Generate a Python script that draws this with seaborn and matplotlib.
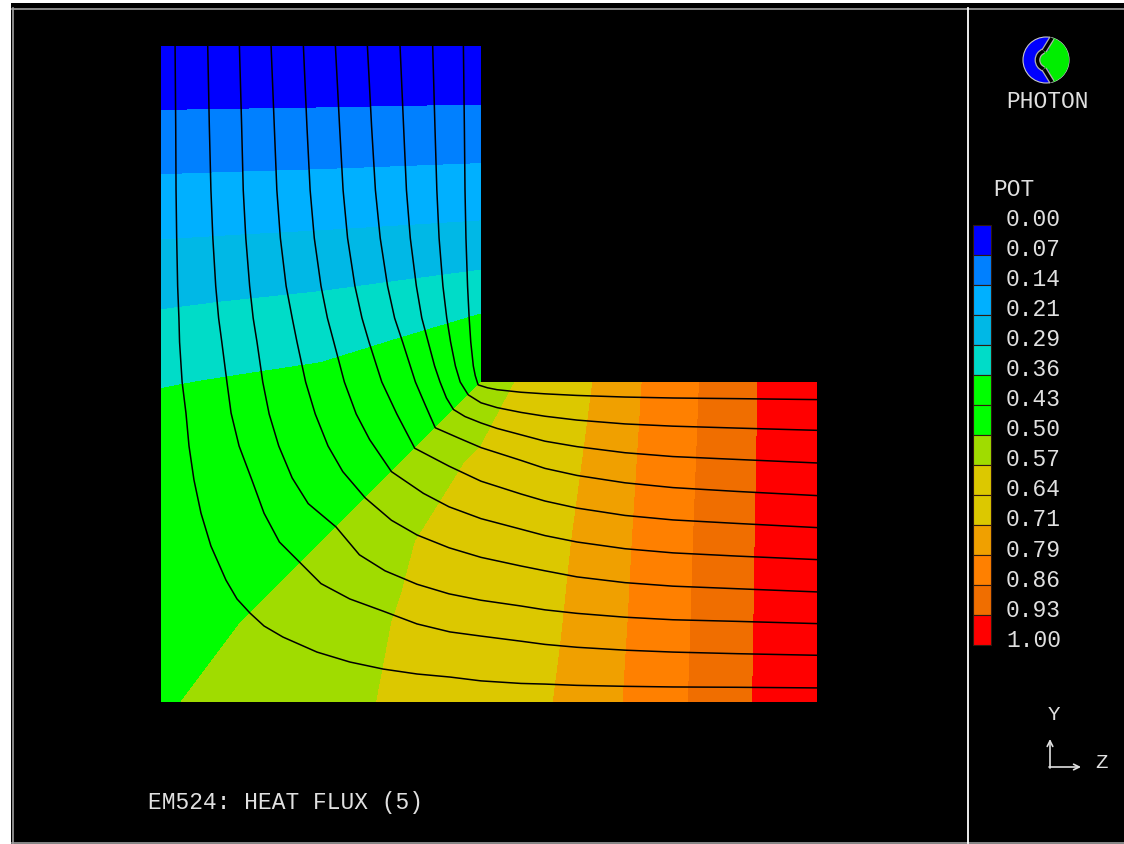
import numpy as np
import pandas as pd
import matplotlib
matplotlib.use('Agg')
import matplotlib.pyplot as plt
import seaborn as sns
from matplotlib.patches import Rectangle, Wedge, Circle, Arc
import matplotlib.patheffects as pe

# 1. DATA
# L-shaped plate, leg width = 1, outer length = 2.05 ; origin at outer corner
z_nodes = [0.0, 0.25, 0.5, 0.75, 1.0, 1.25, 1.5, 1.75, 2.05]
y_nodes = [0.0, 0.25, 0.5, 0.75, 1.0, 1.25, 1.5, 1.75, 2.05]
nan = np.nan
# nodal potential, one row per y node (bottom -> top), nan = outside the plate
pot_y000 = [0.497, 0.509, 0.538, 0.586, 0.648, 0.7214, 0.8043, 0.8936, 1.0]
pot_y025 = [0.490, 0.500, 0.528, 0.577, 0.636, 0.712, 0.800, 0.8914, 1.0]
pot_y050 = [0.462, 0.472, 0.500, 0.560, 0.624, 0.702, 0.796, 0.8893, 1.0]
pot_y075 = [0.414, 0.4226, 0.440, 0.500, 0.589, 0.6865, 0.7907, 0.8866, 1.0]
pot_y100 = [0.352, 0.364, 0.376, 0.411, 0.500, 0.668, 0.7843, 0.884, 1.0]
pot_y125 = [0.2786, 0.288, 0.298, 0.3135, 0.332, nan, nan, nan, nan]
pot_y150 = [0.1957, 0.200, 0.204, 0.2093, 0.2157, nan, nan, nan, nan]
pot_y175 = [0.1064, 0.1086, 0.1107, 0.1134, 0.116, nan, nan, nan, nan]
pot_y205 = [0.0, 0.0, 0.0, 0.0, 0.0, nan, nan, nan, nan]

pot_levels = [0.0, 0.0714, 0.1429, 0.2143, 0.2857, 0.3571, 0.4286, 0.5,
              0.5714, 0.6429, 0.7143, 0.7857, 0.8571, 0.9286, 1.0]
level_labels = ['0.00', '0.07', '0.14', '0.21', '0.29', '0.36', '0.43', '0.50',
                '0.57', '0.64', '0.71', '0.79', '0.86', '0.93', '1.00']
band_colors = ['#0000ff', '#0080ff', '#00b0ff', '#00b8e6', '#00dcc8', '#00ff00', '#00ff00',
               '#a0dc00', '#dcc800', '#dcc800', '#f0a000', '#ff8000', '#f06e00', '#ff0000']

# heat flux lines (z, y), from the top edge round the bend to the right edge
flux_z = [
    [.044, .046, .047, .049, .052, .056, .058, .066, .078, .0875, .103, .125, .156, .203, .2375, .278,
     .322, .381, .4875, .59, .694, .8, .903, 1.0, 1.125, 1.2, 1.3, 1.45, 1.6, 1.8, 2.05],
    [.146, .151, .156, .162, .171, .18, .19, .206, .219, .244, .284, .322, .37, .435,
     .5, .59, .694, .8, .903, 1.0, 1.125, 1.2, 1.3, 1.45, 1.6, 1.8, 2.05],
    [.245, .252, .257, .265, .277, .288, .30, .318, .338, .368, .41, .46, .547,
     .62, .7, .8, .9, 1.0, 1.125, 1.2, 1.3, 1.45, 1.6, 1.8, 2.05],
    [.344, .354, .362, .373, .391, .41, .425, .452, .482, .522, .568, .638,
     .72, .8, .9, 1.0, 1.125, 1.2, 1.3, 1.45, 1.6, 1.8, 2.05],
    [.445, .456, .466, .479, .5, .52, .54, .573, .61, .652, .72,
     .82, .9, 1.0, 1.125, 1.2, 1.3, 1.45, 1.6, 1.8, 2.05],
    [.545, .558, .569, .583, .606, .628, .65, .69, .737, .793,
     .9, 1.0, 1.125, 1.2, 1.3, 1.45, 1.6, 1.8, 2.05],
    [.645, .658, .67, .685, .708, .73, .755, .795, .825, .857,
     .93, 1.0, 1.125, 1.2, 1.3, 1.45, 1.6, 1.8, 2.05],
    [.747, .758, .767, .779, .798, .815, .835, .855, .872, .892, .914,
     .95, 1.0, 1.05, 1.125, 1.2, 1.3, 1.45, 1.6, 1.8, 2.05],
    [.849, .856, .862, .869, .881, .893, .905, .92, .935, .96,
     1.0, 1.05, 1.125, 1.2, 1.3, 1.45, 1.6, 1.8, 2.05],
    [.945, .948, .95, .953, .958, .963, .968, .976, .982, .991,
     1.02, 1.05, 1.125, 1.2, 1.3, 1.45, 1.6, 1.8, 2.05],
]
flux_y = [
    [2.05, 1.8, 1.6, 1.45, 1.3, 1.2, 1.125, 1.0, .903, .8, .694, .59, .4875, .381, .322, .278,
     .2375, .203, .156, .125, .103, .0875, .078, .066, .058, .056, .052, .049, .047, .046, .044],
    [2.05, 1.8, 1.6, 1.45, 1.3, 1.2, 1.125, 1.0, .903, .8, .694, .59, .5, .435,
     .37, .322, .284, .244, .219, .206, .19, .18, .171, .162, .156, .151, .146],
    [2.05, 1.8, 1.6, 1.45, 1.3, 1.2, 1.125, 1.0, .9, .8, .7, .62, .547,
     .46, .41, .368, .338, .318, .30, .288, .277, .265, .257, .252, .245],
    [2.05, 1.8, 1.6, 1.45, 1.3, 1.2, 1.125, 1.0, .9, .8, .72, .638,
     .568, .522, .482, .452, .425, .41, .391, .373, .362, .354, .344],
    [2.05, 1.8, 1.6, 1.45, 1.3, 1.2, 1.125, 1.0, .9, .82, .72,
     .652, .61, .573, .54, .52, .5, .479, .466, .456, .445],
    [2.05, 1.8, 1.6, 1.45, 1.3, 1.2, 1.125, 1.0, .9, .793,
     .737, .69, .65, .628, .606, .583, .569, .558, .545],
    [2.05, 1.8, 1.6, 1.45, 1.3, 1.2, 1.125, 1.0, .93, .857,
     .825, .795, .755, .73, .708, .685, .67, .658, .645],
    [2.05, 1.8, 1.6, 1.45, 1.3, 1.2, 1.125, 1.05, 1.0, .95, .914,
     .892, .872, .855, .835, .815, .798, .779, .767, .758, .747],
    [2.05, 1.8, 1.6, 1.45, 1.3, 1.2, 1.125, 1.05, 1.0, .96,
     .935, .92, .905, .893, .881, .869, .862, .856, .849],
    [2.05, 1.8, 1.6, 1.45, 1.3, 1.2, 1.125, 1.05, 1.02, .991,
     .982, .976, .968, .963, .958, .953, .95, .948, .945],
]

title_text = 'EM524: HEAT FLUX (5)'

# 2. FIGURE
W, H = 1124, 845
fig = plt.figure(figsize=(W / 100, H / 100), dpi=100, facecolor='white')
mono = ['Liberation Mono', 'DejaVu Sans Mono']
txt_col = '#e0e0e0'
fs = 16.5

# background frame (pixel coordinates)
bg = fig.add_axes([0, 0, 1, 1], zorder=0)
bg.set_xlim(0, W)
bg.set_ylim(H, 0)
bg.axis('off')
bg.add_patch(Rectangle((11, 4), W - 11, H - 4, facecolor='black', edgecolor='none'))
bg.plot([12, W], [9.5, 9.5], color='#a0a0a0', lw=1.2)
bg.plot([12.5, 12.5], [9, 843.5], color='#a0a0a0', lw=1.2)
bg.plot([12, W], [843.5, 843.5], color='#a0a0a0', lw=1.2)
bg.plot([967.5, 967.5], [9, 843.5], color='white', lw=1.3)

# contour plot in plate units (320 px per unit)
ax = fig.add_axes([0, 0, 1, 1], zorder=1)
pot = np.ma.masked_invalid(np.array([pot_y000, pot_y025, pot_y050, pot_y075, pot_y100,
                                     pot_y125, pot_y150, pot_y175, pot_y205]))
ax.contourf(z_nodes, y_nodes, pot, levels=pot_levels, colors=band_colors,
            corner_mask=False, antialiased=False)

rows = []
for k, (zz, yy) in enumerate(zip(flux_z, flux_y)):
    for i, (a, b) in enumerate(zip(zz, yy)):
        rows.append({'line': k, 'order': i, 'z': a, 'y': b})
flux_df = pd.DataFrame(rows)
sns.lineplot(data=flux_df, x='z', y='y', units='line', estimator=None, sort=False,
             color='black', lw=1.1, legend=False, ax=ax)
ax.set_xlim(-161 / 320, (W - 161) / 320)
ax.set_ylim(-(H - 703) / 320, 703 / 320)
ax.axis('off')
ax.patch.set_alpha(0)

# annotations / legend panel (pixel coordinates)
ov = fig.add_axes([0, 0, 1, 1], zorder=2)
ov.set_xlim(0, W)
ov.set_ylim(H, 0)
ov.axis('off')
ov.patch.set_alpha(0)

for i, c in enumerate(band_colors):
    ov.add_patch(Rectangle((972.5, 226 + 30 * i), 18, 30, facecolor=c,
                           edgecolor='#301a10', lw=0.8))
for i, lab in enumerate(level_labels):
    ov.text(1006, 219 + 30.1 * i, lab, color=txt_col, family=mono, fontsize=fs,
            ha='left', va='center')
ov.text(993, 189, 'POT', color=txt_col, family=mono, fontsize=fs, ha='left', va='center')
ov.text(1047, 101, 'PHOTON', color=txt_col, family=mono, fontsize=fs, ha='center', va='center')
ov.text(148, 803, title_text, color=txt_col, family=mono, fontsize=fs, ha='left', va='center')

# logo
cx, cy, r = 1046, 61, 23
ov.add_patch(Circle((cx, cy), r, facecolor='#0000ff', edgecolor='#c8c8c8', lw=0.8))
ov.add_patch(Wedge((cx, cy), r, -75, 75, facecolor='#00ee00', edgecolor='none'))
ov.add_patch(Circle((cx + 1, cy), 9.5, facecolor='#00ee00', edgecolor='none'))
gap = [pe.Stroke(linewidth=4.2, foreground='#b0b0b0'), pe.Normal()]
ov.add_patch(Arc((cx + 1, cy), 19, 19, theta1=110, theta2=250, color='black', lw=2.4,
                 path_effects=gap))
ov.plot([cx + 6, cx - 2], [cy - 22, cy - 9], color='black', lw=2.4, path_effects=gap,
        solid_capstyle='butt')
ov.plot([cx + 6, cx - 2], [cy + 22, cy + 9], color='black', lw=2.4, path_effects=gap,
        solid_capstyle='butt')

# axis triad
ov.annotate('', xy=(1050, 740), xytext=(1050, 769),
            arrowprops=dict(arrowstyle='->', color=txt_col, lw=1.2, shrinkA=0, shrinkB=0))
ov.annotate('', xy=(1081, 768), xytext=(1049, 768),
            arrowprops=dict(arrowstyle='->', color=txt_col, lw=1.2, shrinkA=0, shrinkB=0))
ov.text(1054, 715, 'Y', color=txt_col, family=mono, fontsize=15, ha='center', va='center')
ov.text(1102, 763, 'Z', color=txt_col, family=mono, fontsize=15, ha='center', va='center')

fig.savefig('out.png', dpi=100, facecolor='white')
